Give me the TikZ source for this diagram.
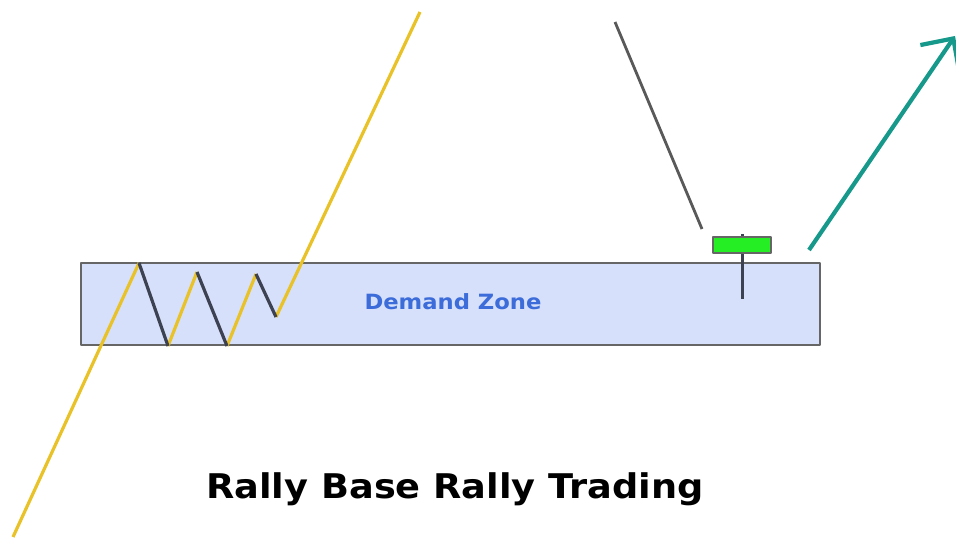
\documentclass[tikz,border=0pt]{standalone}
\usepackage{fontspec}
\setmainfont{DejaVu Sans}
\usetikzlibrary{arrows.meta}
\definecolor{rallyyellow}{HTML}{E9C227}
\definecolor{basegray}{HTML}{3C4252}
\definecolor{zonefill}{HTML}{D7E0FA}
\definecolor{zoneblue}{HTML}{3B6CD9}
\definecolor{candlegreen}{HTML}{25EE25}
\definecolor{arrowteal}{HTML}{16998A}
\begin{document}
\begin{tikzpicture}[x=1pt,y=-1pt,line join=round]
    \useasboundingbox (0,0) rectangle (956,540);
    \clip (0,0) rectangle (956,540);
    \fill[white] (0,0) rectangle (956,540);
    \draw[fill=zonefill,draw=gray!80!black,line width=1.4] (81,263) rectangle (820,345);
    \node[text=zoneblue,font=\bfseries\fontsize{21}{24}\selectfont] (zone) at (453,302) {\scalebox{1.08}[1]{Demand Zone}};
    \foreach \a/\b in {139/263,197/272,256/274}{
      \coordinate (top\a) at (\a,\b);
    }
    \coordinate (low1) at (168,346);
    \coordinate (low2) at (227,346);
    \coordinate (low3) at (276,317);
    \draw[rallyyellow,line width=3.2] (13,537) -- (top139);
    \draw[rallyyellow,line width=3.2] (low1) -- (top197);
    \draw[rallyyellow,line width=3.2] (low2) -- (top256);
    \draw[rallyyellow,line width=3.2] (low3) -- (420,12);
    \draw[basegray,line width=3.2] (top139) -- (low1);
    \draw[basegray,line width=3.2] (top197) -- (low2);
    \draw[basegray,line width=3.2] (top256) -- (low3);
    \draw[gray!70!black,line width=2.8] (615,22) -- (702,229);
    \draw[basegray,line width=3] (742,234) -- (742,299);
    \draw[fill=candlegreen,draw=black!60,line width=1.4] (713,237) rectangle (771,253);
    \draw[arrowteal,line width=4.2,-{Straight Barb[length=24pt,width=47pt,line width=4.2]}] (809,250) -- (955,36);
    \node[font=\bfseries\fontsize{34}{40}\selectfont] (title) at (455,489) {\scalebox{1.08}[1]{Rally Base Rally Trading}};
  \end{tikzpicture}
\end{document}
